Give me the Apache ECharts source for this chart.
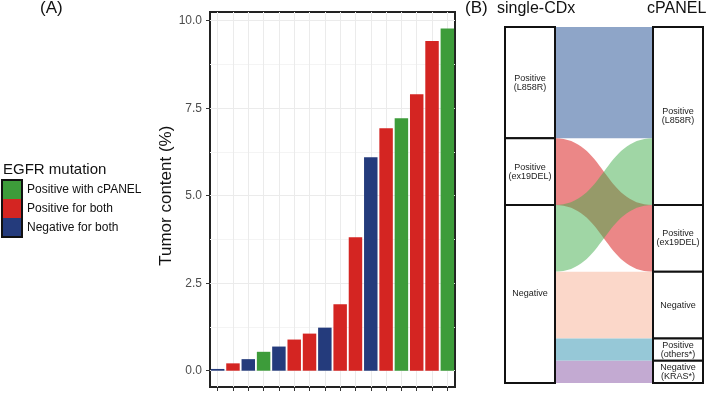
<!doctype html>
<html>
<head>
<meta charset="utf-8">
<title>Tumor content / alluvial</title>
<script src="https://cdn.jsdelivr.net/npm/echarts@6/dist/echarts.min.js"></script>
<style>
  html, body { margin: 0; padding: 0; background: #fff; }
  #main { width: 709px; height: 393px; }
</style>
</head>
<body>
<div id="main"></div>
<script>
// ---- data (A): tumor content per patient, sorted ----
var patients = ['1','2','3','4','5','6','7','8','9','10','11','12','13','14','15','16'];
var tumorContent = [0.05, 0.21, 0.33, 0.54, 0.69, 0.89, 1.06, 1.23, 1.90, 3.81, 6.10, 6.93, 7.21, 7.90, 9.42, 9.78];
var patientGroup = ['neg','pos','neg','cp','neg','pos','pos','neg','pos','pos','neg','pos','cp','pos','pos','cp'];
var groupKeys = ['cp', 'pos', 'neg'];
var groupNames = ['Positive with cPANEL', 'Positive for both', 'Negative for both'];
var groupColors = ['#3d9c3a', '#d42522', '#243b7c'];
var yTicks = [0, 2.5, 5, 7.5, 10];

// ---- data (B): single-CDx -> cPANEL ----
var leftNodes = ['Positive\n(L858R)', 'Positive\n(ex19DEL)', 'Negative'];
var rightNodes = ['Positive\n(L858R)', 'Positive\n(ex19DEL)', 'Negative', 'Positive\n(others*)', 'Negative\n(KRAS*)'];
var flowFrom = [0, 1, 2, 2, 2, 2];
var flowTo = [0, 1, 0, 2, 3, 4];
var flowCount = [5, 3, 3, 3, 1, 1];
var flowColors = ['#8ea5c8', 'rgba(215,15,15,0.5)', 'rgba(65,173,75,0.5)', '#fbd7c9', '#96c8d7', '#c3aad2'];

var chart = echarts.init(document.getElementById('main'));

// half-step axis for the frame grid: odd slots sit on the bar centres
var halfSlots = [''];
patients.forEach(function (p) { halfSlots.push(p, ''); });
function onCentre(index) { return index % 2 === 1; }

// bar series, one per group so that the legend works
var barSeries = groupKeys.map(function (k, gi) {
  return {
    name: groupNames[gi],
    type: 'bar',
    xAxisIndex: 1,
    yAxisIndex: 1,
    stack: 'tc',
    barCategoryGap: '12%',
    itemStyle: { color: groupColors[gi] },
    data: tumorContent.map(function (v, i) { return patientGroup[i] === k ? v : '-'; })
  };
});

var nodes = [];
leftNodes.forEach(function (n, i) { nodes.push({ name: 'L' + i, depth: 0, label: { formatter: n } }); });
rightNodes.forEach(function (n, i) { nodes.push({ name: 'R' + i, depth: 1, label: { formatter: n } }); });
var links = flowCount.map(function (c, i) {
  return {
    source: 'L' + flowFrom[i],
    target: 'R' + flowTo[i],
    value: c,
    lineStyle: { color: flowColors[i], opacity: 1 }
  };
});

var titleText = { fontWeight: 'normal', color: '#111' };
var option = {
  animation: false,
  title: [
    { text: '(A)', left: 40, top: 0, padding: 0, textStyle: Object.assign({ fontSize: 17 }, titleText) },
    { text: '(B)', left: 465, top: 0, padding: 0, textStyle: Object.assign({ fontSize: 17 }, titleText) },
    { text: 'single-CDx', left: 497, top: 1, padding: 0, textStyle: Object.assign({ fontSize: 16 }, titleText) },
    { text: 'cPANEL', left: 647, top: 1, padding: 0, textStyle: Object.assign({ fontSize: 16 }, titleText) },
    { text: 'EGFR mutation', left: 3, top: 162, padding: 0, textStyle: Object.assign({ fontSize: 15 }, titleText) }
  ],
  legend: {
    orient: 'vertical',
    left: 2,
    top: 180,
    padding: 0,
    itemWidth: 20,
    itemHeight: 19,
    itemGap: 0,
    icon: 'rect',
    selectedMode: false,
    data: groupNames,
    textStyle: { fontSize: 12, color: '#111', fontFamily: 'Liberation Sans' }
  },
  graphic: [{
    type: 'rect',
    shape: { x: 2, y: 180, width: 20, height: 57 },
    style: { fill: null, stroke: '#111', lineWidth: 2 },
    z: 100
  }],
  grid: [
    { left: 210, right: 254, top: 12, bottom: 6, show: true, borderColor: '#222', borderWidth: 2, backgroundColor: 'transparent' },
    { left: 210, right: 254, top: 20.7, bottom: 22.3 }
  ],
  xAxis: [
    {
      type: 'category', gridIndex: 0, data: halfSlots, boundaryGap: false,
      axisLine: { show: false },
      axisTick: { show: true, interval: onCentre, length: 4, lineStyle: { color: '#333' } },
      axisLabel: { show: false },
      splitLine: { show: true, interval: onCentre, lineStyle: { color: '#ebebeb', width: 1 } }
    },
    { type: 'category', gridIndex: 1, data: patients, show: false }
  ],
  yAxis: [
    { type: 'value', gridIndex: 0, min: 0, max: 1, show: false },
    {
      type: 'value', gridIndex: 1, min: yTicks[0], max: yTicks[yTicks.length - 1], interval: 2.5,
      name: 'Tumor content (%)', nameLocation: 'middle', nameGap: 27,
      nameTextStyle: { fontSize: 17, color: '#111', fontFamily: 'Liberation Sans' },
      axisLine: { show: false },
      axisTick: { show: true, length: 4, lineStyle: { color: '#333' } },
      axisLabel: { color: '#4d4d4d', fontSize: 12, margin: 8, fontFamily: 'Liberation Sans',
        formatter: function (v) { return v.toFixed(1); } },
      splitLine: { show: true, lineStyle: { color: '#ebebeb', width: 1 } },
      minorTick: { show: false, splitNumber: 2 },
      minorSplitLine: { show: true, lineStyle: { color: '#f4f4f4', width: 1 } }
    }
  ],
  series: barSeries.concat([{
    type: 'sankey',
    left: 505, right: 6, top: 27, bottom: 10,
    nodeWidth: 50,
    nodeGap: 0,
    layoutIterations: 0,
    draggable: false,
    emphasis: { disabled: true },
    itemStyle: { color: '#fff', borderColor: '#111', borderWidth: 2 },
    label: { position: 'inside', color: '#222', fontSize: 9, lineHeight: 9, fontFamily: 'Liberation Sans' },
    lineStyle: { curveness: 0.5 },
    data: nodes,
    links: links
  }])
};

chart.setOption(option);
</script>
</body>
</html>
